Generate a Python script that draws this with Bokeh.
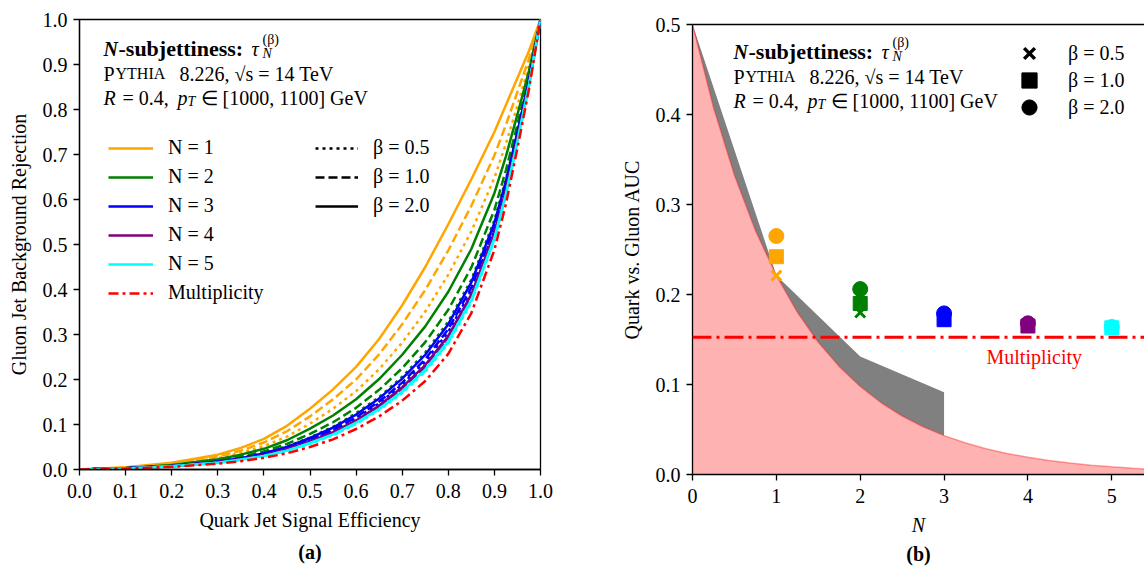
from bokeh.plotting import figure
from bokeh.models import (Label, Legend, LegendItem, PrintfTickFormatter, FixedTicker,
                          LinearAxis, Range1d, Span, Title)
from bokeh.layouts import row, column
from bokeh.embed import file_html
from bokeh.resources import INLINE

FONT = "Liberation Serif"
NAN = float("nan")

# ---------------- panel (a): ROC curves ----------------
quark_eff = [0, .1, .2, .3, .35, .4, .45, .5, .55, .6, .65, .7, .75, .8, .85, .9, .925, .95, .975, 1]

rej_n1_b20 = [0, .005, .015, .033, .048, .068, .097, .135, .178, .228, .290, .365, .450, .545, .645, .750, .810, .870, .930, 1]
rej_n1_b10 = [0, .004, .013, .029, .042, .060, .085, .118, .156, .200, .256, .323, .399, .487, .586, .698, .766, .839, .913, 1]
rej_n1_b05 = [0, .004, .012, .025, .037, .052, .073, .102, .135, .174, .223, .282, .351, .433, .529, .648, .724, .809, .897, 1]
rej_n2_b20 = [0, .003, .010, .023, .033, .046, .065, .091, .120, .156, .201, .255, .318, .395, .490, .614, .696, .789, .886, 1]
rej_n2_b10 = [0, .003, .009, .020, .029, .040, .057, .079, .105, .137, .177, .225, .283, .355, .449, .577, .665, .767, .874, 1]
rej_n2_b05 = [0, .003, .008, .018, .026, .037, .051, .071, .095, .125, .161, .206, .260, .329, .422, .554, .645, .753, .866, 1]
rej_n3_b20 = [0, .003, .008, .018, .025, .036, .050, .070, .093, .122, .158, .202, .255, .323, .416, .548, .641, .750, .865, 1]
rej_n3_b10 = [0, .003, .008, .017, .024, .034, .048, .066, .088, .116, .151, .193, .245, .312, .404, .538, .632, .744, .861, 1]
rej_n3_b05 = [0, .003, .008, .016, .024, .033, .046, .065, .086, .114, .147, .189, .240, .306, .398, .533, .627, .741, .860, 1]
rej_n4_b20 = [0, .002, .007, .016, .023, .032, .045, .062, .083, .109, .142, .183, .232, .297, .389, .525, .621, .736, .857, 1]
rej_n4_b10 = [0, .002, .007, .016, .022, .031, .044, .061, .081, .107, .140, .180, .228, .293, .385, .521, .618, .734, .856, 1]
rej_n4_b05 = [0, .002, .007, .015, .022, .031, .043, .060, .080, .106, .138, .177, .226, .290, .382, .518, .615, .732, .855, 1]
rej_n5_b20 = [0, .002, .007, .015, .022, .030, .042, .059, .078, .104, .135, .174, .222, .286, .377, .514, .612, .730, .854, 1]
rej_n5_b10 = [0, .002, .007, .015, .021, .030, .042, .058, .077, .102, .134, .172, .219, .283, .374, .512, .610, .728, .853, 1]
rej_n5_b05 = [0, .002, .007, .015, .021, .029, .041, .057, .076, .101, .132, .170, .217, .280, .371, .509, .608, .727, .852, 1]
rej_mult = [0, .002, .006, .013, .0185, .026, .036, .050, .067, .090, .118, .153, .1965, .257, .3475, .488, .590, .714, .845, 1]

a_ticks = [0.0, 0.1, 0.2, 0.3, 0.4, 0.5, 0.6, 0.7, 0.8, 0.9, 1.0]

# ---------------- panel (b): AUC vs N ----------------
n_values = [1, 2, 3, 4, 5]
auc_beta05 = [0.221, 0.180, 0.171, 0.165, 0.163]
auc_beta10 = [0.242, 0.190, 0.172, 0.165, 0.163]
auc_beta20 = [0.265, 0.206, 0.179, 0.168, 0.164]
auc_multiplicity = 0.1525

bound_n = [0, 0.25, 0.5, 0.75, 1.0, 1.25, 1.5, 1.75, 2.0, 2.25, 2.5, 2.75, 3.0,
           3.25, 3.5, 3.75, 4.0, 4.25, 4.5, 4.75, 5.0, 5.25, 5.5]
bound_auc = [0.5, 0.4077, 0.3325, 0.2712, 0.2211, 0.1803, 0.147, 0.1199, 0.0978,
             0.0797, 0.065, 0.053, 0.0432, 0.0353, 0.0287, 0.0234, 0.0191, 0.0156,
             0.0127, 0.0104, 0.0085, 0.0069, 0.0056]
band_n = [0, 1, 2, 3]
band_auc = [0.5, 0.221, 0.131, 0.0915]

b_xticks = [0, 1, 2, 3, 4, 5]
b_yticks = [0.0, 0.1, 0.2, 0.3, 0.4, 0.5]

n_colors = ["#FFA500", "#008000", "#0000FF", "#800080", "#00FFFF"]


def style_axes(p):
    for ax in p.xaxis + p.yaxis:
        ax.axis_line_color = "black"
        ax.axis_line_width = 1.3
        ax.major_tick_line_color = "black"
        ax.major_tick_line_width = 1.3
        ax.major_tick_in = 0
        ax.major_tick_out = 6
        ax.minor_tick_line_color = None
        ax.major_label_text_font = FONT
        ax.major_label_text_font_size = "20px"
        ax.major_label_text_color = "black"
        ax.axis_label_text_font = FONT
        ax.axis_label_text_font_size = "20px"
        ax.axis_label_text_color = "black"
        ax.axis_label_text_font_style = "normal"
    for ax in p.xaxis:
        ax.major_label_standoff = 8
        ax.axis_label_standoff = 8
    for ax in p.yaxis:
        ax.major_label_standoff = 6
        ax.axis_label_standoff = 10


def put(p, ax, ay, fx, fy, px, py, text, size=20, style="normal", color="black"):
    # (ax, ay) is the data corner whose screen position is (fx, fy); text baseline at (px, py)
    p.add_layout(Label(x=ax, y=ay, x_offset=px - fx, y_offset=fy - py, text=text,
                       text_font=FONT, text_font_size=f"{size}px", text_font_style=style,
                       text_color=color, text_align="left", text_baseline="alphabetic"))


def info_block(p, ax, ay, fx, fy, x0, y0):
    put(p, ax, ay, fx, fy, x0, y0, "N", 20, "bold italic")
    put(p, ax, ay, fx, fy, x0 + 15, y0, "-subjettiness:", 22, "bold")
    put(p, ax, ay, fx, fy, x0 + 148, y0, "τ", 20, "italic")
    put(p, ax, ay, fx, fy, x0 + 159, y0 - 9, "(β)", 14)
    put(p, ax, ay, fx, fy, x0 + 159, y0 + 5, "N", 14, "italic")
    put(p, ax, ay, fx, fy, x0, y0 + 25, "P", 20)
    put(p, ax, ay, fx, fy, x0 + 12, y0 + 25, "YTHIA", 16)
    put(p, ax, ay, fx, fy, x0 + 76, y0 + 25, "8.226, √s = 14 TeV", 20)
    put(p, ax, ay, fx, fy, x0, y0 + 49, "R", 20, "italic")
    put(p, ax, ay, fx, fy, x0 + 19, y0 + 49, "= 0.4,", 20)
    put(p, ax, ay, fx, fy, x0 + 74, y0 + 49, "p", 20, "italic")
    put(p, ax, ay, fx, fy, x0 + 84, y0 + 53, "T", 14, "italic")
    put(p, ax, ay, fx, fy, x0 + 97, y0 + 49, "∈ [1000, 1100] GeV", 20)


def mk_legend(items, vx, vy, gw, gh, spacing, standoff):
    return Legend(items=items, location=(vx, vy), glyph_width=gw, glyph_height=gh,
                  label_height=gh, spacing=spacing, label_standoff=standoff,
                  padding=0, margin=0, border_line_color=None, background_fill_alpha=0,
                  label_text_font=FONT, label_text_font_size="20px", label_text_color="black")


# ================= figure (a) =================
p1 = figure(width=608, height=568, title=None, x_range=Range1d(0, 1), y_range=Range1d(0, 1),
            output_backend="svg", toolbar_location=None,
            min_border_left=79, min_border_right=68, min_border_top=19, min_border_bottom=99)
p1.grid.visible = False
p1.outline_line_color = "black"
p1.outline_line_width = 1.3
p1.xaxis.axis_label = "Quark Jet Signal Efficiency"
p1.yaxis.axis_label = "Gluon Jet Background Rejection"
p1.xaxis.ticker = FixedTicker(ticks=a_ticks)
p1.yaxis.ticker = FixedTicker(ticks=a_ticks)
p1.xaxis.formatter = PrintfTickFormatter(format="%.1f")
p1.yaxis.formatter = PrintfTickFormatter(format="%.1f")
style_axes(p1)

LW = 2.5
DOT, DASH, DASHDOT = "3 4", "9 4", "10 4 3 4"
groups = [(rej_n1_b05, rej_n1_b10, rej_n1_b20),
          (rej_n2_b05, rej_n2_b10, rej_n2_b20),
          (rej_n3_b05, rej_n3_b10, rej_n3_b20),
          (rej_n4_b05, rej_n4_b10, rej_n4_b20),
          (rej_n5_b05, rej_n5_b10, rej_n5_b20)]
solid_r = []
for i, (b05, b10, b20) in enumerate(groups):
    c = n_colors[i]
    p1.line(quark_eff, b05, line_color=c, line_width=LW, line_dash=DOT)
    p1.line(quark_eff, b10, line_color=c, line_width=LW, line_dash=DASH)
    solid_r.append(p1.line(quark_eff, b20, line_color=c, line_width=LW))
r_mult = p1.line(quark_eff, rej_mult, line_color="red", line_width=LW, line_dash=DASHDOT)

# legend-only renderers (no visible data)
k_dot = p1.line([NAN], [NAN], line_color="black", line_width=LW, line_dash=DOT)
k_dash = p1.line([NAN], [NAN], line_color="black", line_width=LW, line_dash=DASH)
k_solid = p1.line([NAN], [NAN], line_color="black", line_width=LW)

p1.add_layout(mk_legend([LegendItem(label="N = 1", renderers=[solid_r[0]]),
                         LegendItem(label="N = 2", renderers=[solid_r[1]]),
                         LegendItem(label="N = 3", renderers=[solid_r[2]]),
                         LegendItem(label="N = 4", renderers=[solid_r[3]]),
                         LegendItem(label="N = 5", renderers=[solid_r[4]]),
                         LegendItem(label="Multiplicity", renderers=[r_mult])],
                        29, 165, 45, 20, 6, 15))
p1.add_layout(mk_legend([LegendItem(label="β = 0.5", renderers=[k_dot]),
                         LegendItem(label="β = 1.0", renderers=[k_dash]),
                         LegendItem(label="β = 2.0", renderers=[k_solid])],
                        236, 252, 43, 20, 6, 15))

info_block(p1, 0, 1, 79, 19, 103, 48)
p1.add_layout(Title(text="(a)", align="center", text_font=FONT, text_font_size="20px",
                    text_font_style="bold", text_color="black", standoff=10), "below")

# ================= figure (b) =================
p2 = figure(width=536, height=568, title=None, x_range=Range1d(0, 5.39), y_range=Range1d(0, 0.5),
            output_backend="svg", toolbar_location=None,
            min_border_left=84, min_border_right=0, min_border_top=24, min_border_bottom=94)
p2.grid.visible = False
p2.outline_line_color = None
top_axis = LinearAxis(ticker=FixedTicker(ticks=[]), major_label_text_color=None)
p2.add_layout(top_axis, "above")
p2.xaxis.axis_label = "N"
p2.yaxis.axis_label = "Quark vs. Gluon AUC"
p2.below[0].ticker = FixedTicker(ticks=b_xticks)
p2.yaxis.ticker = FixedTicker(ticks=b_yticks)
p2.below[0].formatter = PrintfTickFormatter(format="%d")
p2.yaxis.formatter = PrintfTickFormatter(format="%.1f")
style_axes(p2)
top_axis.axis_label = None
top_axis.major_tick_out = 0
top_axis.major_label_standoff = 0
p2.below[0].axis_label_text_font_style = "italic"

band_x = band_n + bound_n[12::-1]
band_y = band_auc + bound_auc[12::-1]
p2.patch(band_x, band_y, fill_color="#808080", line_color=None)
p2.varea(x=bound_n, y1=0, y2=bound_auc, fill_color="red", fill_alpha=0.3)
p2.line(bound_n, bound_auc, line_color="red", line_alpha=0.35, line_width=1.5)

p2.add_layout(Span(location=auc_multiplicity, dimension="width", line_color="red",
                   line_width=3, line_dash="19 5 3 5"))
put(p2, 0, 0.5, 692, 24, 986, 356, "Multiplicity", 20, color="red")

p2.scatter(n_values, auc_beta10, marker="square", size=14, fill_color=n_colors,
           line_color=n_colors)
p2.scatter(n_values, auc_beta05, marker="x", size=14, line_color=n_colors, line_width=3)
p2.scatter(n_values, auc_beta20, marker="circle", size=15, fill_color=n_colors,
           line_color=n_colors)

m_x = p2.scatter([NAN], [NAN], marker="x", size=38, line_color="black", line_width=3.5)
m_sq = p2.scatter([NAN], [NAN], marker="square", size=38, fill_color="black", line_color="black")
m_ci = p2.scatter([NAN], [NAN], marker="circle", size=38, fill_color="black", line_color="black")
for rend, lab, vy in [(m_x, "β = 0.5", 402), (m_sq, "β = 1.0", 375), (m_ci, "β = 2.0", 348)]:
    p2.add_layout(mk_legend([LegendItem(label=lab, renderers=[rend])], 318, vy, 38, 38, 0, 20))

info_block(p2, 0, 0.5, 692, 24, 733, 51)
p2.add_layout(Title(text="(b)", align="center", text_font=FONT, text_font_size="20px",
                    text_font_style="bold", text_color="black", standoff=4), "below")

layout = row(column(p1), column(p2))
open("out.html", "w").write(file_html(layout, INLINE))
